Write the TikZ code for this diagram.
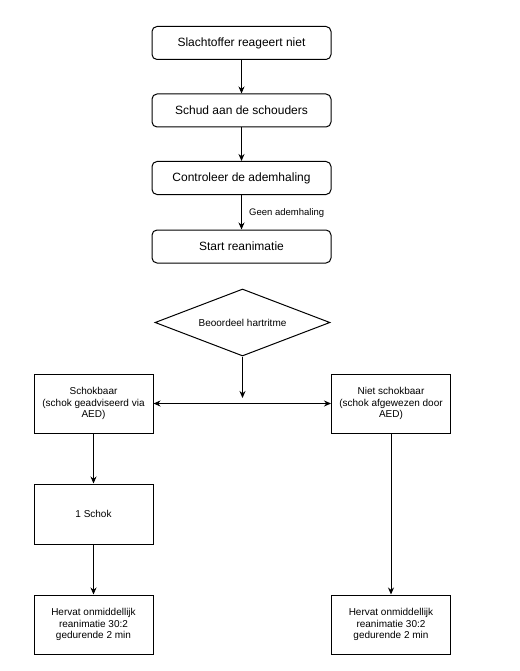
\documentclass[tikz,border=0pt]{standalone}
\usepackage{fontspec}
\setmainfont{Liberation Sans}
\usetikzlibrary{arrows.meta,shapes.geometric}
\begin{document}
\begin{tikzpicture}[x=1pt,y=-1pt,
  rbox/.style={draw=black,line width=1pt,rounded corners=5pt,minimum width=179pt,minimum height=33pt,inner sep=0pt,font=\fontsize{12}{14}\selectfont},
  sbox/.style={draw=black,line width=1pt,minimum width=119pt,minimum height=59pt,inner sep=0pt,align=center,font=\fontsize{10}{11.5}\selectfont},
  arr/.style={draw=black,line width=1pt,-{Stealth[length=7pt,width=6pt]}},
  darr/.style={draw=black,line width=1pt,{Stealth[length=7pt,width=6pt]}-{Stealth[length=7pt,width=6pt]}}]
\useasboundingbox (0,0) rectangle (519,671);
\node[rbox] (b1) at (241.5,43) {Slachtoffer reageert niet};
\node[rbox] (b2) at (241.5,110.5) {Schud aan de schouders};
\node[rbox] (b3) at (241.5,178) {Controleer de ademhaling};
\node[rbox] (b4) at (241.5,246.5) {Start reanimatie};
\node[draw=black,line width=1pt,diamond,minimum width=175pt,minimum height=67pt,inner sep=0pt,aspect=2.6,font=\fontsize{10}{11.5}\selectfont] (d) at (242.5,322.5) {Beoordeel hartritme};
\node[sbox] (lb) at (93.5,403.5) {Schokbaar\\(schok geadviseerd via\\AED)};
\node[sbox] (rb) at (391,403.5) {Niet schokbaar\\(schok afgewezen door\\AED)};
\node[sbox,minimum height=60pt] (s1) at (93.5,514) {1 Schok};
\node[sbox] (hl) at (93.5,624.5) {Hervat onmiddellijk\\reanimatie 30:2\\gedurende 2 min};
\node[sbox] (hr) at (391,624.5) {Hervat onmiddellijk\\reanimatie 30:2\\gedurende 2 min};
\node[anchor=west,inner sep=0pt,font=\fontsize{9.5}{11.5}\selectfont] (gl) at (249,213) {Geen ademhaling};
\coordinate (jt) at (242.5,398);
\draw[arr] (b1) -- (b2);
\draw[arr] (b2) -- (b3);
\draw[arr] (b3) -- (b4);
\draw[arr] (d.south) -- (jt);
\draw[darr] (lb.east) -- (rb.west);
\draw[arr] (lb) -- (s1);
\draw[arr] (s1) -- (hl);
\draw[arr] (rb) -- (hr);
\end{tikzpicture}
\end{document}
